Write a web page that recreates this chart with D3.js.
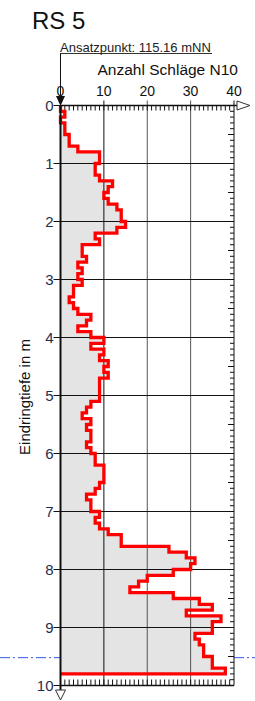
<!DOCTYPE html>
<html>
<head>
<meta charset="utf-8">
<script src="https://cdn.jsdelivr.net/npm/d3@7"></script>
<style>
  body { margin: 0; background: #fff; }
  svg { display: block; font-family: "Liberation Sans", Arial, sans-serif; }
</style>
</head>
<body>
<svg></svg>
<script>
var width = 255;
var height = 701;

var title = 'RS 5';
var startPoint = 'Ansatzpunkt: 115.16 mNN';
var xLabel = 'Anzahl Schläge N10';
var yLabel = 'Eindringtiefe in m';

var xTicks = [0, 10, 20, 30, 40];
var yTicks = [0, 1, 2, 3, 4, 5, 6, 7, 8, 9, 10];
var waterDepth = 9.52;

// top of each 10 cm interval (m)
var depthTop = [
  0.0, 0.1, 0.2, 0.3, 0.4, 0.5, 0.6, 0.7, 0.8, 0.9,
  1.0, 1.1, 1.2, 1.3, 1.4, 1.5, 1.6, 1.7, 1.8, 1.9,
  2.0, 2.1, 2.2, 2.3, 2.4, 2.5, 2.6, 2.7, 2.8, 2.9,
  3.0, 3.1, 3.2, 3.3, 3.4, 3.5, 3.6, 3.7, 3.8, 3.9,
  4.0, 4.1, 4.2, 4.3, 4.4, 4.5, 4.6, 4.7, 4.8, 4.9,
  5.0, 5.1, 5.2, 5.3, 5.4, 5.5, 5.6, 5.7, 5.8, 5.9,
  6.0, 6.1, 6.2, 6.3, 6.4, 6.5, 6.6, 6.7, 6.8, 6.9,
  7.0, 7.1, 7.2, 7.3, 7.4, 7.5, 7.6, 7.7, 7.8, 7.9,
  8.0, 8.1, 8.2, 8.3, 8.4, 8.5, 8.6, 8.7, 8.8, 8.9,
  9.0, 9.1, 9.2, 9.3, 9.4, 9.5, 9.6, 9.7
];

// blows per 10 cm
var blows = [
  0, 1, 0, 1, 1, 2, 2, 4, 9, 9,
  8, 8, 9, 12, 11, 10, 11, 13, 14, 14,
  15, 13, 8, 9, 5, 5, 6, 4, 5, 4,
  5, 3, 3, 2, 3, 4, 7, 6, 4, 7,
  10, 7, 10, 9, 11, 10, 11, 9, 9, 9,
  9, 7, 6, 5, 7, 6, 7, 7, 6, 7,
  8, 8, 10, 10, 10, 9, 8, 6, 7, 7,
  9, 8, 9, 11, 14, 14, 25, 29, 31, 30,
  26, 20, 18, 16, 26, 32, 35, 29, 37, 35,
  35, 31, 32, 33, 33, 35, 35, 38
];

var xScale = d3.scaleLinear()
               .domain([0, 40])
               .range([60.5, 234]);

var yScale = d3.scaleLinear()
               .domain([0, 10])
               .range([105.5, 685.5]);

var svg = d3.select('svg')
            .attr('width', width)
            .attr('height', height);

// step points, two per interval
var steps = [];
depthTop.forEach(function(d, i){
  steps.push({d: d, n: blows[i]});
  steps.push({d: +(d + 0.1).toFixed(1), n: blows[i]});
});
var endDepth = steps[steps.length - 1].d;

// groundwater line, sits behind the plot area
svg.append('line')
   .attr('x1', 0)
   .attr('x2', width)
   .attr('y1', yScale(waterDepth))
   .attr('y2', yScale(waterDepth))
   .attr('stroke', '#3058f0')
   .attr('stroke-width', 1)
   .attr('stroke-dasharray', '10,3,2,3');

svg.append('rect')
   .attr('x', xScale(0))
   .attr('y', yScale(0))
   .attr('width', xScale(40) - xScale(0))
   .attr('height', yScale(10) - yScale(0))
   .attr('fill', '#fff');

// grey fill under the curve
svg.append('path')
   .datum(steps)
   .attr('fill', '#e4e4e4')
   .attr('d', d3.area()
     .y(function(p){ return yScale(p.d); })
     .x0(xScale(0))
     .x1(function(p){ return xScale(p.n); })
   );

// grid
svg.append('g')
   .selectAll('line')
   .data([10, 20, 30])
   .enter()
   .append('line')
     .attr('x1', d => xScale(d))
     .attr('x2', d => xScale(d))
     .attr('y1', yScale(0) - 5)
     .attr('y2', yScale(10))
     .attr('stroke', d => d === 10 ? '#111' : '#555')
     .attr('stroke-width', 1);

svg.append('g')
   .selectAll('line')
   .data(yTicks.slice(1, -1))
   .enter()
   .append('line')
     .attr('x1', xScale(0))
     .attr('x2', xScale(40))
     .attr('y1', d => yScale(d))
     .attr('y2', d => yScale(d))
     .attr('stroke', '#111')
     .attr('stroke-width', 1);

// minor ticks top and bottom
var minorX = d3.range(1, 40);
svg.append('g')
   .selectAll('line')
   .data(minorX)
   .enter()
   .append('line')
     .attr('x1', d => xScale(d))
     .attr('x2', d => xScale(d))
     .attr('y1', yScale(0))
     .attr('y2', yScale(0) + 5)
     .attr('stroke', '#111');

svg.append('g')
   .selectAll('line')
   .data(minorX)
   .enter()
   .append('line')
     .attr('x1', d => xScale(d))
     .attr('x2', d => xScale(d))
     .attr('y1', yScale(10))
     .attr('y2', yScale(10) - 6)
     .attr('stroke', '#111');

// minor ticks right side
svg.append('g')
   .selectAll('line')
   .data(d3.range(1, 100))
   .enter()
   .append('line')
     .attr('x1', xScale(40))
     .attr('x2', d => xScale(40) - (d % 5 === 0 ? 6 : 4))
     .attr('y1', d => yScale(d / 10))
     .attr('y2', d => yScale(d / 10))
     .attr('stroke', '#111');

// red step line
var outline = steps.concat([{d: endDepth, n: 0}]);
svg.append('path')
   .datum(outline)
   .attr('fill', 'none')
   .attr('stroke', '#ff0000')
   .attr('stroke-width', 3.3)
   .attr('stroke-linejoin', 'miter')
   .attr('d', d3.line()
     .x(function(p){ return xScale(p.n); })
     .y(function(p){ return yScale(p.d); })
   );

// frame
svg.append('line')
   .attr('x1', xScale(40)).attr('x2', xScale(40))
   .attr('y1', yScale(0) - 5).attr('y2', yScale(10))
   .attr('stroke', '#111');
svg.append('line')
   .attr('x1', xScale(0)).attr('x2', xScale(40))
   .attr('y1', yScale(10)).attr('y2', yScale(10))
   .attr('stroke', '#111').attr('stroke-width', 1.5);
svg.append('line')
   .attr('x1', xScale(0)).attr('x2', 237)
   .attr('y1', yScale(0)).attr('y2', yScale(0))
   .attr('stroke', '#111').attr('stroke-width', 1.5);
svg.append('line')
   .attr('x1', xScale(0)).attr('x2', xScale(0))
   .attr('y1', yScale(0)).attr('y2', 690)
   .attr('stroke', '#111').attr('stroke-width', 2);

// axis arrows
svg.append('path')
   .attr('d', 'M237,101 L250,105.5 L237,110 Z')
   .attr('fill', '#fff')
   .attr('stroke', '#333')
   .attr('stroke-width', 1);
svg.append('path')
   .attr('d', 'M' + (xScale(0) - 5) + ',690 L' + (xScale(0) + 5) + ',690 L' + xScale(0) + ',700 Z')
   .attr('fill', '#fff')
   .attr('stroke', '#333')
   .attr('stroke-width', 1);

// left ticks and labels
svg.append('g')
   .selectAll('line')
   .data(yTicks)
   .enter()
   .append('line')
     .attr('x1', xScale(0) - 7)
     .attr('x2', xScale(0))
     .attr('y1', d => yScale(d))
     .attr('y2', d => yScale(d))
     .attr('stroke', '#111');

svg.append('g')
   .selectAll('text')
   .data(yTicks)
   .enter()
   .append('text')
     .attr('x', xScale(0) - 7)
     .attr('y', d => yScale(d))
     .attr('dy', '0.36em')
     .style('text-anchor', 'end')
     .style('font-size', '15px')
     .attr('fill', '#1f2d4d')
     .text(d => d);

// top labels
svg.append('g')
   .selectAll('text')
   .data(xTicks)
   .enter()
   .append('text')
     .attr('x', d => xScale(d))
     .attr('y', 95.5)
     .style('text-anchor', 'middle')
     .style('font-size', '14px')
     .attr('fill', '#111')
     .text(d => d);

svg.append('text')
   .attr('x', 238)
   .attr('y', 75)
   .style('text-anchor', 'end')
   .style('font-size', '15.5px')
   .attr('fill', '#111')
   .text(xLabel);

svg.append('text')
   .attr('transform', 'rotate(-90)')
   .attr('x', -397)
   .attr('y', 30)
   .style('text-anchor', 'middle')
   .style('font-size', '15px')
   .attr('fill', '#111')
   .text(yLabel);

// start point with arrow down to 0
svg.append('text')
   .attr('x', 60)
   .attr('y', 51.5)
   .style('font-size', '13px')
   .attr('fill', '#222')
   .text(startPoint);
svg.append('line')
   .attr('x1', 60).attr('x2', 212)
   .attr('y1', 53.5).attr('y2', 53.5)
   .attr('stroke', '#333');
svg.append('line')
   .attr('x1', xScale(0)).attr('x2', xScale(0))
   .attr('y1', 53.5).attr('y2', 98)
   .attr('stroke', '#111');
svg.append('path')
   .attr('d', 'M' + (xScale(0) - 4.5) + ',96 L' + (xScale(0) + 4.5) + ',96 L' + xScale(0) + ',106 Z')
   .attr('fill', '#111');

svg.append('text')
   .attr('x', 32)
   .attr('y', 29)
   .style('font-size', '24px')
   .attr('fill', '#111')
   .text(title);
</script>
</body>
</html>
